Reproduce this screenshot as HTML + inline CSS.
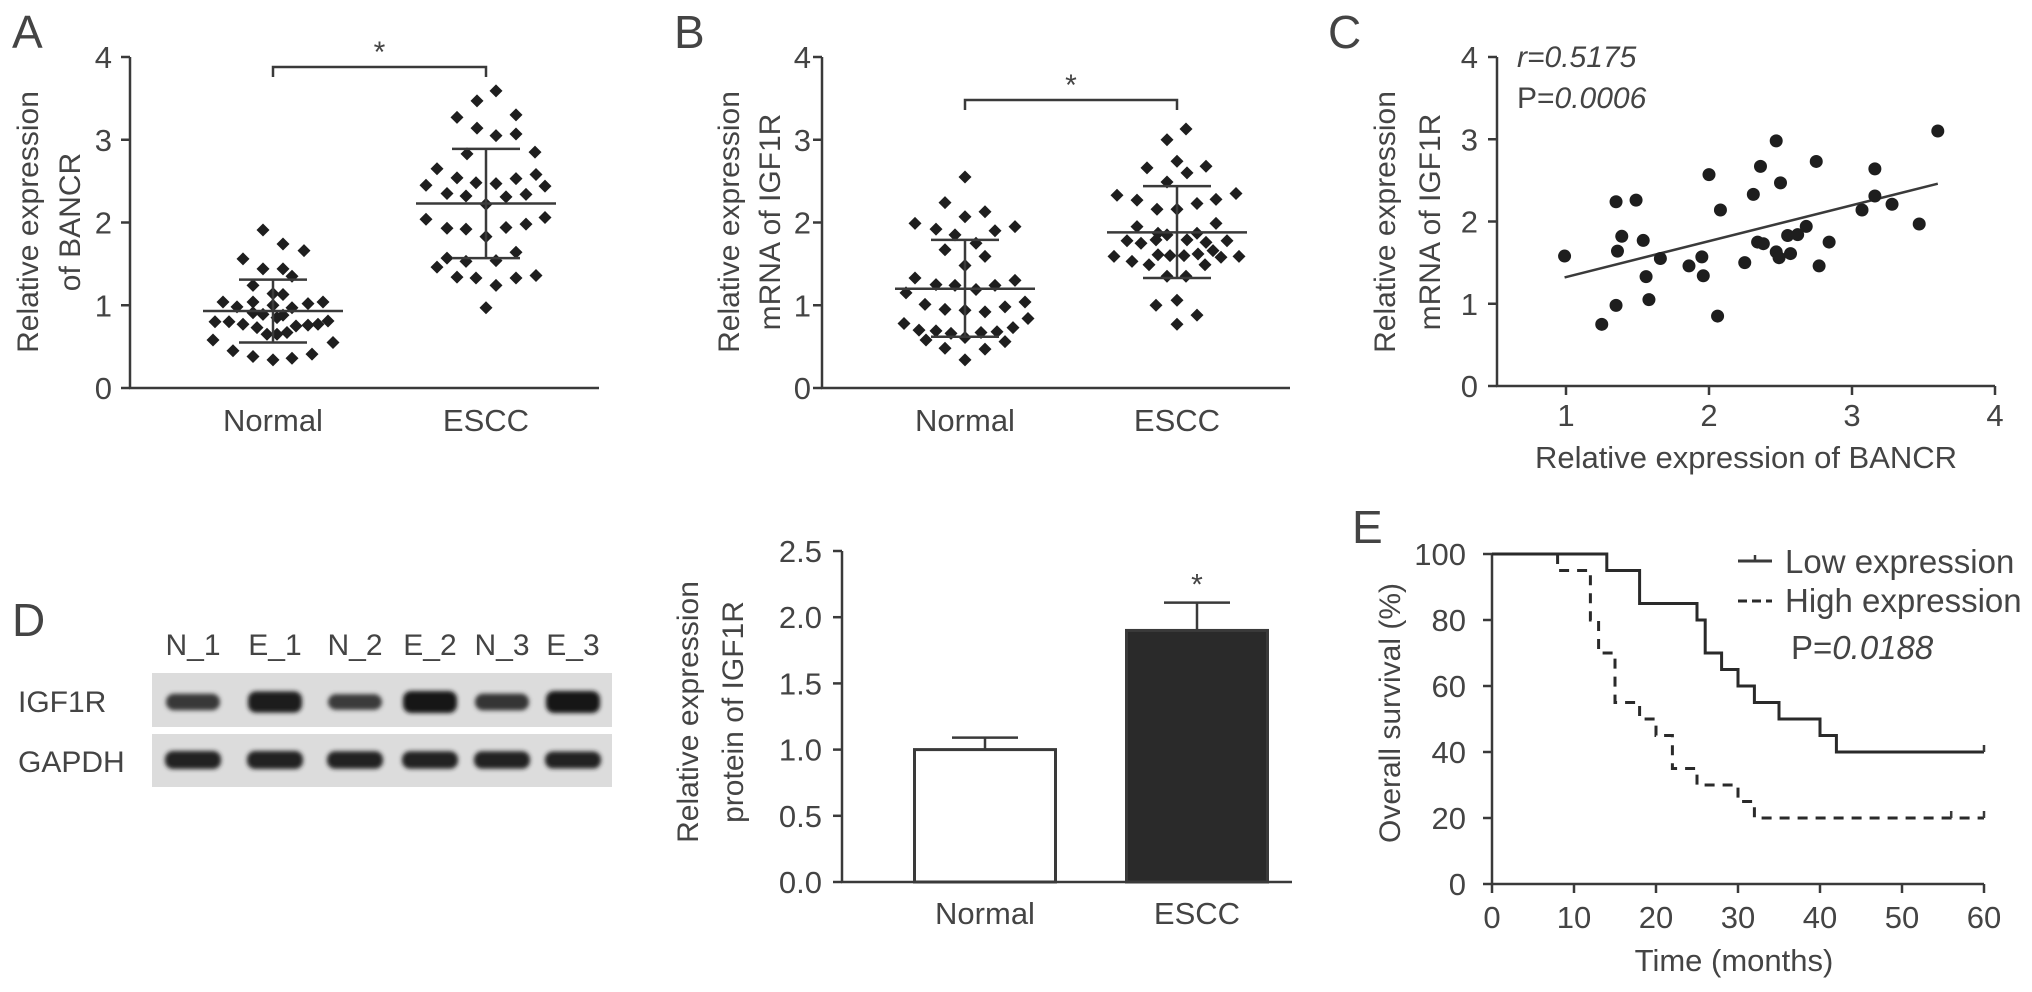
<!DOCTYPE html>
<html><head><meta charset="utf-8"><title>BANCR IGF1R figure</title>
<style>
html,body{margin:0;padding:0;background:#fff;}
svg{display:block;font-family:"Liberation Sans",Arial,sans-serif;}
text{fill:#444;}
</style></head>
<body>
<svg id="fig" width="2032" height="992" viewBox="0 0 2032 992" xmlns="http://www.w3.org/2000/svg">
<defs><filter id="blur" x="-20%" y="-50%" width="140%" height="200%"><feGaussianBlur stdDeviation="2.2"/></filter></defs>
<g id="gA"></g>
<g id="gB"></g>
<g id="gC"></g>
<g id="gD"></g>
<g id="gBar"></g>
<g id="gE"></g>
</svg>
<script>
// ---------- Panel A data (BANCR) ----------
const aNormalVals=[1.91,1.74,1.66,1.56,1.44,1.44,1.35,1.24,1.14,1.13,1.04,0.98,1.04,1.00,0.97,1.02,1.04,0.80,0.80,0.77,0.73,0.85,0.75,0.76,0.77,0.81,0.91,0.89,0.88,0.65,0.65,0.67,0.58,0.45,0.38,0.34,0.36,0.41,0.55];
const aNormalJit=[-1,1,3.1,-3,-1,1,1.9,-2,0,1,-5,-3.6,-2,0,1.9,3.5,5,-5.8,-4.4,-3,-1.6,0.4,2.3,3.5,4.5,5.5,-2,-1,1,-0.6,0.4,1.4,-6,-4,-2,0,1.9,3.9,6];
const aEsccVals=[3.59,3.47,3.27,3.30,3.14,3.05,3.07,2.83,2.85,2.65,2.54,2.48,2.47,2.53,2.58,2.45,2.35,2.32,2.31,2.34,2.44,2.22,2.04,1.93,1.92,1.94,1.98,2.06,1.83,1.57,1.53,1.54,1.64,1.46,1.34,1.33,1.24,1.33,1.36,0.97];
const aEsccJit=[1,-0.9,-2.9,3,-0.9,1,3,-1.9,4.9,-4.9,-2.9,-1,1,3,5,-6,-3.9,-2,2,4,5.9,0,-6,-3.9,-2,2,4,5.9,0,-3.9,-2,1,3,-4.9,-2.9,-1,1,3,5,0];
const aMean=[0.93,2.23], aSdLo=[0.55,1.57], aSdHi=[1.31,2.89];
// ---------- Panel B data (IGF1R mRNA) ----------
const bNormalVals=[2.55,2.24,2.13,2.07,1.99,1.92,1.85,1.90,1.95,1.75,1.67,1.59,1.48,1.33,1.25,1.24,1.19,1.24,1.30,1.15,1.01,0.95,0.94,0.92,0.98,1.04,0.78,0.70,0.69,0.66,0.61,0.67,0.68,0.73,0.84,0.58,0.48,0.47,0.56,0.34];
const bNormalJit=[0,-2,2,0,-5,-2.9,-1,3,5,1.1,-2,2,0,-5,-2.9,-1,1.1,3,5,-5.9,-4,-2,0,2,4,6,-6.1,-4.6,-2.9,-1.4,0,1.6,3.2,4.8,6.3,-3.9,-2,2,4,0];
const bEsccVals=[3.13,3.00,2.74,2.68,2.66,2.60,2.49,2.33,2.27,2.16,2.16,2.23,2.28,2.35,1.95,1.99,1.87,1.85,1.87,1.78,1.75,1.79,1.79,1.76,1.78,1.59,1.53,1.49,1.61,1.60,1.60,1.62,1.49,1.66,1.58,1.59,1.35,1.35,1.00,1.06,0.88,0.77];
const bEsccJit=[0.9,-1,0,2.9,-3,1,-1,-6,-4,-2,0,2,3.9,5.9,-4,3.9,-1.9,-1,2,-5,-3.6,-2.1,1,2.9,5,-6.3,-4.5,-2.8,-1.9,-0.7,0.7,2.1,2.8,3.6,4.4,6.2,-1,0.9,-2.1,0,2,0];
const bMean=[1.20,1.88], bSdLo=[0.62,1.33], bSdHi=[1.79,2.44];
const groupLabels=["Normal","ESCC"];
const tickA=[0,1,2,3,4];
// ---------- Panel C data (correlation) ----------
const cX=[0.99,1.35,1.49,1.39,1.36,1.54,1.66,1.56,1.58,1.35,1.25,1.86,1.95,1.96,2.00,2.08,2.06,2.25,2.31,2.36,2.47,2.50,2.34,2.38,2.47,2.49,2.57,2.55,2.62,2.68,2.75,2.84,2.77,3.07,3.16,3.16,3.28,3.47,3.60];
const cY=[1.58,2.24,2.26,1.82,1.64,1.77,1.55,1.33,1.05,0.98,0.75,1.46,1.57,1.34,2.57,2.14,0.85,1.50,2.33,2.67,2.98,2.47,1.75,1.73,1.63,1.56,1.61,1.83,1.84,1.94,2.73,1.75,1.46,2.14,2.64,2.31,2.21,1.97,3.10];
const cFitX=[0.99,3.60], cFitY=[1.32,2.46];
const cXTicks=[1,2,3,4], cYTicks=[0,1,2,3,4];
// ---------- Panel D data ----------
const laneLabels=["N_1","E_1","N_2","E_2","N_3","E_3"];
const igfIntensity=[0.6,0.95,0.55,1.0,0.62,1.0];
const gapdhIntensity=[1,1,0.97,0.97,0.97,0.95];
const barVals=[1.00,1.90], barErr=[0.09,0.21];
const barTicks=["0.0","0.5","1.0","1.5","2.0","2.5"];
// ---------- Panel E data (survival) ----------
const lowT=[0,14,18,25,26,28,30,32,35,40,42,60];
const lowS=[100,95,85,80,70,65,60,55,50,45,40,40];
const highT=[8,12,13,15,18,20,22,25,30,32,60];
const highS=[95,80,70,55,50,45,35,30,25,20,20];
const highCensor=[56,60], lowCensor=[60];
const eXTicks=[0,10,20,30,40,50,60], eYTicks=[0,20,40,60,80,100];

const NS="http://www.w3.org/2000/svg";
const FT=31, FY=30;
function mk(parent,tag,attrs,txt){const e=document.createElementNS(NS,tag);for(const k in attrs)e.setAttribute(k,attrs[k]);if(txt!==undefined)e.textContent=txt;parent.appendChild(e);return e;}
function lin(d0,d1,r0,r1){return v=>r0+(v-d0)*(r1-r0)/(d1-d0);}
const S="#3a3a3a";
function line(p,x1,y1,x2,y2,name,w){const l=mk(p,"line",{x1,y1,x2,y2,stroke:S,"stroke-width":w||2.5});return l;}
function txt(p,x,y,s,size,anchor,name,extra){const t=mk(p,"text",Object.assign({x,y,"font-size":size,"text-anchor":anchor||"start"},extra||{}),s);return t;}
function vlabel(p,x,cy,s,name){const t=txt(p,0,0,s,FY,"middle",name,{transform:`translate(${x},${cy}) rotate(-90)`,"dominant-baseline":"middle"});return t;}

// ---------- Dot plots A & B ----------
function dotPlot(g,ax,centers,axisEnd,vals,jits,mean,lo,hi,brY,labelX,label1,label2,letter,letterX,tickRight){
  const y=lin(0,4,388,57);
  txt(g,letterX,48,letter,46,"start","panel-letter");
  line(g,ax,y(4),ax,y(0),"y-axis");
  line(g,ax-1,y(0),axisEnd,y(0),"x-axis");
  tickA.forEach(t=>{line(g,ax-9,y(t),ax,y(t),"y-tick");txt(g,tickRight,y(t)+11,String(t),FT,"end","y-tick-label");});
  vlabel(g,labelX[0],222,label1,"y-axis-title");
  vlabel(g,labelX[1],222,label2,"y-axis-title-line2");
  groupLabels.forEach((lab,i)=>txt(g,centers[i],431,lab,FT,"middle","x-label-"+lab.toLowerCase()));
  const br=mk(g,"path",{d:`M${centers[0]},${brY+10}V${brY}H${centers[1]}V${brY+10}`,fill:"none",stroke:S,"stroke-width":2.5});
  
  txt(g,(centers[0]+centers[1])/2,brY-5,"*",30,"middle","significance-star");
  for(let gi=0;gi<2;gi++){
    vals[gi].forEach((v,i)=>{const cx=centers[gi]+jits[gi][i]*10,cy=y(v),r=6.5;
      const d=mk(g,"path",{d:`M${cx},${cy-r}L${cx+r},${cy}L${cx},${cy+r}L${cx-r},${cy}Z`,fill:"#1e1e1e"});
      });
    const c=centers[gi];
    line(g,c-70,y(mean[gi]),c+70,y(mean[gi]),"mean-line",2.5);
    line(g,c,y(lo[gi]),c,y(hi[gi]),"sd-line",2.5);
    line(g,c-34,y(lo[gi]),c+34,y(lo[gi]),"sd-cap",2.5);
    line(g,c-34,y(hi[gi]),c+34,y(hi[gi]),"sd-cap",2.5);
  }
}
dotPlot(document.getElementById("gA"),130,[273,486],599,[aNormalVals,aEsccVals],[aNormalJit,aEsccJit],aMean,aSdLo,aSdHi,67,[30,72],"Relative expression","of BANCR","A",12,112);
dotPlot(document.getElementById("gB"),822,[965,1177],1290,[bNormalVals,bEsccVals],[bNormalJit,bEsccJit],bMean,bSdLo,bSdHi,100,[731,772],"Relative expression","mRNA of IGF1R","B",674,811);

// ---------- Panel C ----------
(function(){
  const g=document.getElementById("gC");
  const x=lin(1,2,1566,1709), y=lin(0,4,386,57);
  txt(g,1328,48,"C",46,"start","panel-letter");
  line(g,1497,y(4),1497,y(0),"y-axis");
  line(g,1496,y(0),x(4),y(0),"x-axis");
  cYTicks.forEach(t=>{line(g,1488,y(t),1497,y(t),"y-tick");txt(g,1478,y(t)+11,String(t),FT,"end","y-tick-label");});
  cXTicks.forEach(t=>{line(g,x(t),y(0),x(t),y(0)+9,"x-tick");txt(g,x(t),426,String(t),FT,"middle","x-tick-label");});
  vlabel(g,1387,222,"Relative expression","y-axis-title");
  vlabel(g,1432,222,"mRNA of IGF1R","y-axis-title-line2");
  txt(g,1746,468,"Relative expression of BANCR",FT,"middle","x-axis-title");
  const r=txt(g,1517,67,"",30,"start","correlation-r");
  mk(r,"tspan",{"font-style":"italic"},"r=0.5175");
  const p=txt(g,1517,108,"P=",30,"start","correlation-p");
  mk(p,"tspan",{"font-style":"italic"},"0.0006");
  line(g,x(cFitX[0]),y(cFitY[0]),x(cFitX[1]),y(cFitY[1]),"regression-line",2.5);
  cX.forEach((v,i)=>{const c=mk(g,"circle",{cx:x(v),cy:y(cY[i]),r:6.5,fill:"#1e1e1e"});
    });
})();

// ---------- Panel D blot ----------
(function(){
  const g=document.getElementById("gD");
  txt(g,12,636,"D",46,"start","panel-letter");
  const lanes=[193,275,355,430,502,573];
  laneLabels.forEach((l,i)=>txt(g,lanes[i],655,l,30,"middle","lane-label"));
  txt(g,18,712,"IGF1R",30,"start","igf1r-label");
  txt(g,18,772,"GAPDH",30,"start","gapdh-label");
  const b1=mk(g,"rect",{x:152,y:673,width:460,height:54,fill:"#dcdcdc"});
  const b2=mk(g,"rect",{x:152,y:734,width:460,height:53,fill:"#dcdcdc"});
  lanes.forEach((cx,i)=>{
    const a=igfIntensity[i];
    const c=Math.round(100-75*a);
    const e=mk(g,"rect",{x:cx-27,y:702-(4+7*a),width:54,height:(8+14*a),rx:8,fill:`rgb(${c},${c},${c})`,filter:"url(#blur)"});
    
    const b=gapdhIntensity[i];
    const f=mk(g,"rect",{x:cx-28,y:760-9*b,width:56,height:18*b,rx:8,fill:"#222",filter:"url(#blur)"});
    
  });
})();

// ---------- Panel D bar chart ----------
(function(){
  const g=document.getElementById("gBar");
  const y=lin(0,2.5,882,551);
  const centers=[985,1197], half=72;
  line(g,842,y(2.5),842,y(0),"y-axis");
  line(g,841,y(0),1292,y(0),"x-axis");
  barTicks.forEach(t=>{const v=parseFloat(t);line(g,833,y(v),842,y(v),"y-tick");txt(g,822,y(v)+11,t,FT,"end","y-tick-label");});
  vlabel(g,690,712,"Relative expression","y-axis-title");
  vlabel(g,735,712,"protein of IGF1R","y-axis-title-line2");
  barVals.forEach((v,i)=>{
    const c=centers[i];
    line(g,c,y(v),c,y(v+barErr[i]),"error-bar",2.5);
    line(g,c-33,y(v+barErr[i]),c+33,y(v+barErr[i]),"error-cap",2.5);
    const r=mk(g,"rect",{x:c-half+1.5,y:y(v),width:2*half-3,height:y(0)-y(v),fill:i?"#2a2a2a":"#fff",stroke:S,"stroke-width":3});
    
    txt(g,c,924,groupLabels[i],FT,"middle","x-label-"+groupLabels[i].toLowerCase());
  });
  txt(g,centers[1],y(barVals[1]+barErr[1])-8,"*",30,"middle","significance-star");
})();

// ---------- Panel E ----------
(function(){
  const g=document.getElementById("gE");
  const x=lin(0,60,1492,1984), y=lin(0,100,884,554);
  txt(g,1352,543,"E",46,"start","panel-letter");
  line(g,1492,y(100),1492,y(0),"y-axis");
  line(g,1491,y(0),x(60),y(0),"x-axis");
  eYTicks.forEach(t=>{line(g,1483,y(t),1492,y(t),"y-tick");txt(g,1466,y(t)+11,String(t),FT,"end","y-tick-label");});
  eXTicks.forEach(t=>{line(g,x(t),y(0),x(t),y(0)+9,"x-tick");txt(g,x(t),928,String(t),FT,"middle","x-tick-label");});
  vlabel(g,1392,713,"Overall survival (%)","y-axis-title");
  txt(g,1734,971,"Time (months)",FT,"middle","x-axis-title");
  let d=`M${x(lowT[0])},${y(lowS[0])}`;
  for(let i=1;i<lowT.length;i++){d+=`H${x(lowT[i])}V${y(lowS[i])}`;}
  const pl=mk(g,"path",{d,fill:"none",stroke:"#2a2a2a","stroke-width":3});
  
  let d2=`M${x(highT[0])},${y(100)}V${y(highS[0])}`;
  for(let i=1;i<highT.length;i++){d2+=`H${x(highT[i])}V${y(highS[i])}`;}
  const ph=mk(g,"path",{d:d2,fill:"none",stroke:"#2a2a2a","stroke-width":3,"stroke-dasharray":"10 8"});
  
  lowCensor.forEach(t=>line(g,x(t),y(lowS[lowS.length-1]),x(t),y(lowS[lowS.length-1])-7,"censor-mark",2.5));
  highCensor.forEach(t=>line(g,x(t),y(highS[highS.length-1]),x(t),y(highS[highS.length-1])-7,"censor-mark",2.5));
  line(g,1738,561,1772,561,"legend-low-line",3);
  line(g,1755,561,1755,555,"legend-low-tick",2.5);
  txt(g,1785,573,"Low expression",33,"start","legend-low-label");
  const hl=mk(g,"path",{d:"M1738,601H1772",stroke:"#2a2a2a","stroke-width":3,"stroke-dasharray":"9 5"});
  
  txt(g,1785,612,"High expression",33,"start","legend-high-label");
  const p=txt(g,1791,659,"P=",33,"start","logrank-p");
  mk(p,"tspan",{"font-style":"italic"},"0.0188");
})();
</script>
</body></html>
